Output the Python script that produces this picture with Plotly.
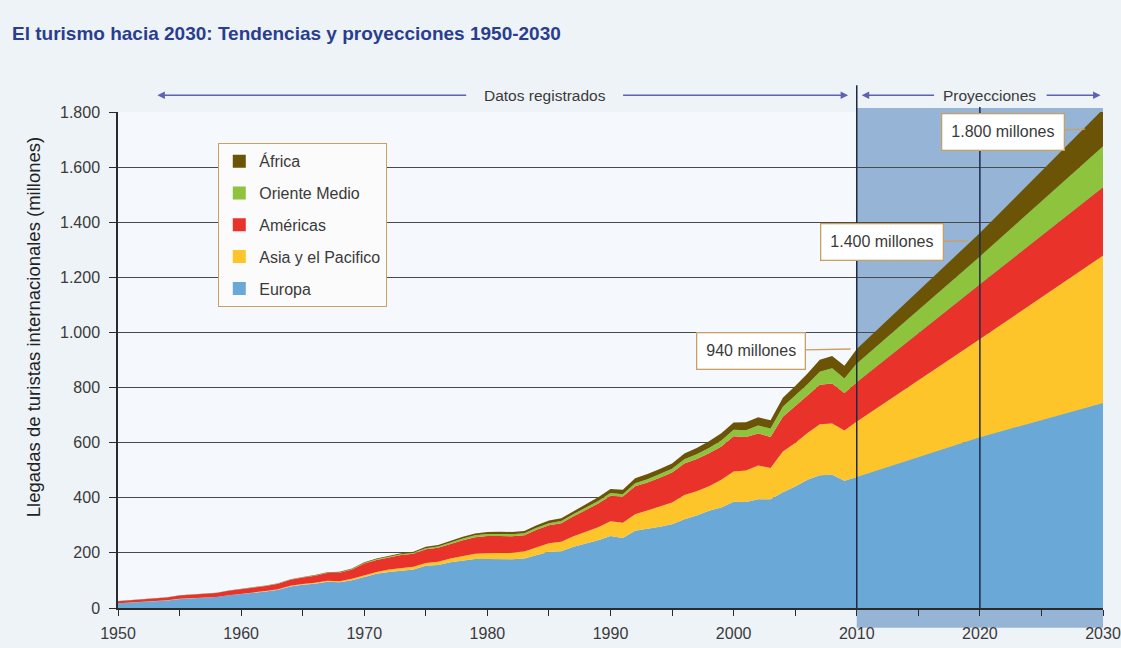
import plotly.graph_objects as go

# ---------------- data (millions of international tourist arrivals) ----------------
years = list(range(1950, 2011)) + [2020, 2030]

europa = [17, 19.5, 21.5, 25, 27.5, 33, 36, 38, 39.5, 46,
          50.4, 55, 60, 66.5, 78, 84, 88, 95, 93, 101,
          113, 124, 131, 136, 140, 153, 156, 166, 172, 178,
          178, 177, 177, 180, 192, 204, 206, 222, 234, 246,
          261, 254, 280, 287, 295, 304, 322, 336, 353, 365,
          386, 385, 395, 395, 420, 441, 465, 482, 484, 462,
          475, 620, 744]

asia = [0.2, 0.3, 0.3, 0.4, 0.4, 0.5, 0.5, 0.6, 0.6, 0.7,
        0.9, 1.1, 1.4, 1.8, 2.3, 2.8, 3.3, 3.8, 4.3, 5.0,
        6.2, 6.8, 8.3, 9.5, 9.8, 10.2, 11.5, 13.5, 16, 19,
        21, 23, 24, 25, 28, 31, 34, 38, 43, 47,
        54, 55, 60, 66, 73, 79, 88, 88, 89, 100,
        109, 114, 122, 113, 148, 158, 170, 185, 186, 182,
        202, 356, 535]

americas = [7.5, 8.0, 8.5, 9.0, 9.8, 11.5, 12.5, 13.5, 14.2, 15.5,
            16.7, 17.6, 18.5, 19.8, 22, 23.5, 25.5, 27.9, 30.4, 33.5,
            42.3, 43.5, 44.5, 46.5, 47.5, 50, 51, 53, 58, 60,
            62.3, 61.5, 59.5, 59, 64, 65, 68, 73, 79, 86,
            92.8, 95.5, 102, 102.5, 105, 109, 114, 117, 119.5, 121.5,
            128, 122, 116.5, 113, 125.7, 133, 136, 143, 145, 136,
            142, 199, 248]

oriente_medio = [0.2, 0.2, 0.3, 0.3, 0.3, 0.4, 0.4, 0.4, 0.5, 0.5,
                 0.6, 0.7, 0.8, 0.9, 1.0, 1.1, 1.3, 1.3, 1.4, 1.7,
                 1.9, 2.2, 2.6, 3.0, 3.5, 4.0, 4.5, 5.5, 6.0, 6.8,
                 7.1, 7.5, 7.5, 7.0, 7.0, 7.5, 7.5, 8.0, 8.5, 9.0,
                 9.6, 8.5, 11.0, 12.0, 13.0, 13.7, 15.5, 17.0, 19.5, 21.0,
                 24.1, 24.5, 29.0, 30.0, 36.3, 38, 41, 47, 55, 53,
                 68, 101, 149]

africa = [0.5, 0.5, 0.5, 0.5, 0.6, 0.6, 0.6, 0.7, 0.7, 0.7,
          0.8, 0.9, 1.0, 1.1, 1.2, 1.4, 1.6, 1.8, 2.0, 2.2,
          2.4, 2.8, 3.0, 3.4, 3.6, 4.7, 5.2, 5.8, 6.3, 7.0,
          7.2, 8.0, 8.0, 8.5, 9.0, 9.7, 9.8, 10.2, 12.5, 13.6,
          14.8, 16.2, 18.0, 18.5, 18.5, 18.9, 21.5, 23.0, 24.5, 26.5,
          26.2, 28.3, 29.5, 30.7, 33.3, 35.4, 39.4, 43.9, 44.4, 45.9,
          53, 85, 134]

series_names = ["Europa", "Asia y el Pacifico", "Américas", "Oriente Medio", "África"]
series_values = [europa, asia, americas, oriente_medio, africa]
series_colors = ["#6aa8d8", "#fdc52a", "#e8322a", "#8dc33d", "#6c5406"]

y_ticks = [0, 200, 400, 600, 800, 1000, 1200, 1400, 1600, 1800]
y_ticktext = ["0", "200", "400", "600", "800", "1.000", "1.200", "1.400", "1.600", "1.800"]
x_ticks = list(range(1950, 2031, 5))
x_ticktext = [str(v) if v % 10 == 0 else "" for v in x_ticks]

callouts = [  # (text, year, value, ax, ay)
    ("940 millones", 2009.5, 940, -100, 2),
    ("1.400 millones", 2019.05, 1332, -86, 1),
    ("1.800 millones", 2028.55, 1738, -82, 3),
]

FONT = "Liberation Sans, Arial, Helvetica, sans-serif"
TXT = "#3a3a3a"
TAN = "#c9a063"
ARROW = "#5b63b5"

fig = go.Figure()
for name, vals, col in zip(series_names, series_values, series_colors):
    fig.add_trace(go.Scatter(x=years, y=vals, name=name, stackgroup="one", mode="lines",
                             line=dict(width=0, color=col), fillcolor=col,
                             showlegend=False, hoverinfo="skip"))
# legend entries (square swatches), top-first order
for name, col in reversed(list(zip(series_names, series_colors))):
    fig.add_trace(go.Scatter(x=[None], y=[None], mode="markers", name=name, legendgroup=name,
                             marker=dict(symbol="square", size=13, color=col)))

shapes = [
    dict(type="rect", xref="x", yref="paper", x0=2010, x1=2030, y0=-0.040, y1=1.008,
         fillcolor="rgb(150,180,214)", line=dict(width=0), layer="below"),
    dict(type="line", xref="x", yref="paper", x0=2010, x1=2010, y0=0, y1=1.054,
         line=dict(color="#1c2a4a", width=1.5), layer="above"),
    dict(type="line", xref="x", yref="paper", x0=2020, x1=2020, y0=0, y1=1.010,
         line=dict(color="#1c2a4a", width=1.5), layer="above"),
]

annotations = [
    dict(text="<b>El turismo hacia 2030: Tendencias y proyecciones 1950-2030</b>",
         xref="paper", yref="paper", x=-0.1096, y=1.159, xanchor="left", yanchor="middle",
         showarrow=False, font=dict(size=19, color="#2a3d8f", family=FONT)),
    dict(text="Llegadas de turistas internacionales (millones)", textangle=-90,
         xref="paper", yref="paper", x=-0.0863, y=0.566, xanchor="center", yanchor="middle",
         showarrow=False, font=dict(size=18.5, color="#222222", family=FONT)),
    dict(text="Datos registrados", xref="x", yref="paper", x=1984.7, y=1.034,
         xanchor="center", yanchor="middle",
         showarrow=False, font=dict(size=15.5, color=TXT, family=FONT)),
    dict(text="Proyecciones", xref="x", yref="paper", x=2020.8, y=1.034,
         xanchor="center", yanchor="middle",
         showarrow=False, font=dict(size=15.5, color=TXT, family=FONT)),
]
for head, tail in [(1953.2, 1978.4), (2009.3, 1990.9), (2010.4, 2016.4), (2029.8, 2025.3)]:
    annotations.append(dict(text="", xref="x", yref="paper", x=head, y=1.034,
                            axref="x", ax=tail, ayref="pixel", ay=0, showarrow=True,
                            arrowhead=2, arrowsize=1, arrowwidth=1.5, arrowcolor=ARROW))
for txt, xv, yv, ax, ay in callouts:
    annotations.append(dict(text=txt, x=xv, y=yv, xref="x", yref="y", ax=ax, ay=ay,
                            showarrow=True, arrowhead=0, arrowwidth=1.3, arrowcolor=TAN,
                            bgcolor="white", bordercolor=TAN, borderwidth=1.3, borderpad=9,
                            font=dict(size=16, color=TXT, family=FONT)))

fig.update_layout(
    width=1121, height=648,
    margin=dict(l=118, r=18, t=112, b=40, autoexpand=False),
    paper_bgcolor="#eef3f8", plot_bgcolor="#f5f8fc",
    font=dict(family=FONT, color=TXT, size=16),
    shapes=shapes, annotations=annotations,
    legend=dict(x=0.1015, y=0.9375, xanchor="left", yanchor="top",
                bgcolor="#fbfbfb", bordercolor=TAN, borderwidth=1.3,
                font=dict(size=16, color=TXT, family=FONT),
                tracegroupgap=8, itemwidth=30),
    xaxis=dict(range=[1950, 2030], tickvals=x_ticks, ticktext=x_ticktext, automargin=False,
               showgrid=False, zeroline=False, showline=True, linecolor="#2b2b2b", linewidth=1.5,
               ticks="outside", ticklen=6, tickcolor="#2b2b2b", tickwidth=1.3,
               tickfont=dict(size=16, color=TXT), ticklabelstandoff=4),
    yaxis=dict(range=[0, 1800], tickvals=y_ticks, ticktext=y_ticktext, automargin=False,
               showgrid=True, gridcolor="#4a4a4a", gridwidth=1.2, zeroline=False,
               showline=True, linecolor="#2b2b2b", linewidth=1.5,
               ticks="outside", ticklen=7, tickcolor="#2b2b2b", tickwidth=1.3,
               tickfont=dict(size=16, color=TXT), ticklabelstandoff=6),
)

fig.write_html("out.html", config={"displayModeBar": False},
               post_script="document.body.style.margin='0';document.body.style.padding='0';"
                           "document.body.style.overflow='hidden';"
                           "document.documentElement.style.overflow='hidden';")
